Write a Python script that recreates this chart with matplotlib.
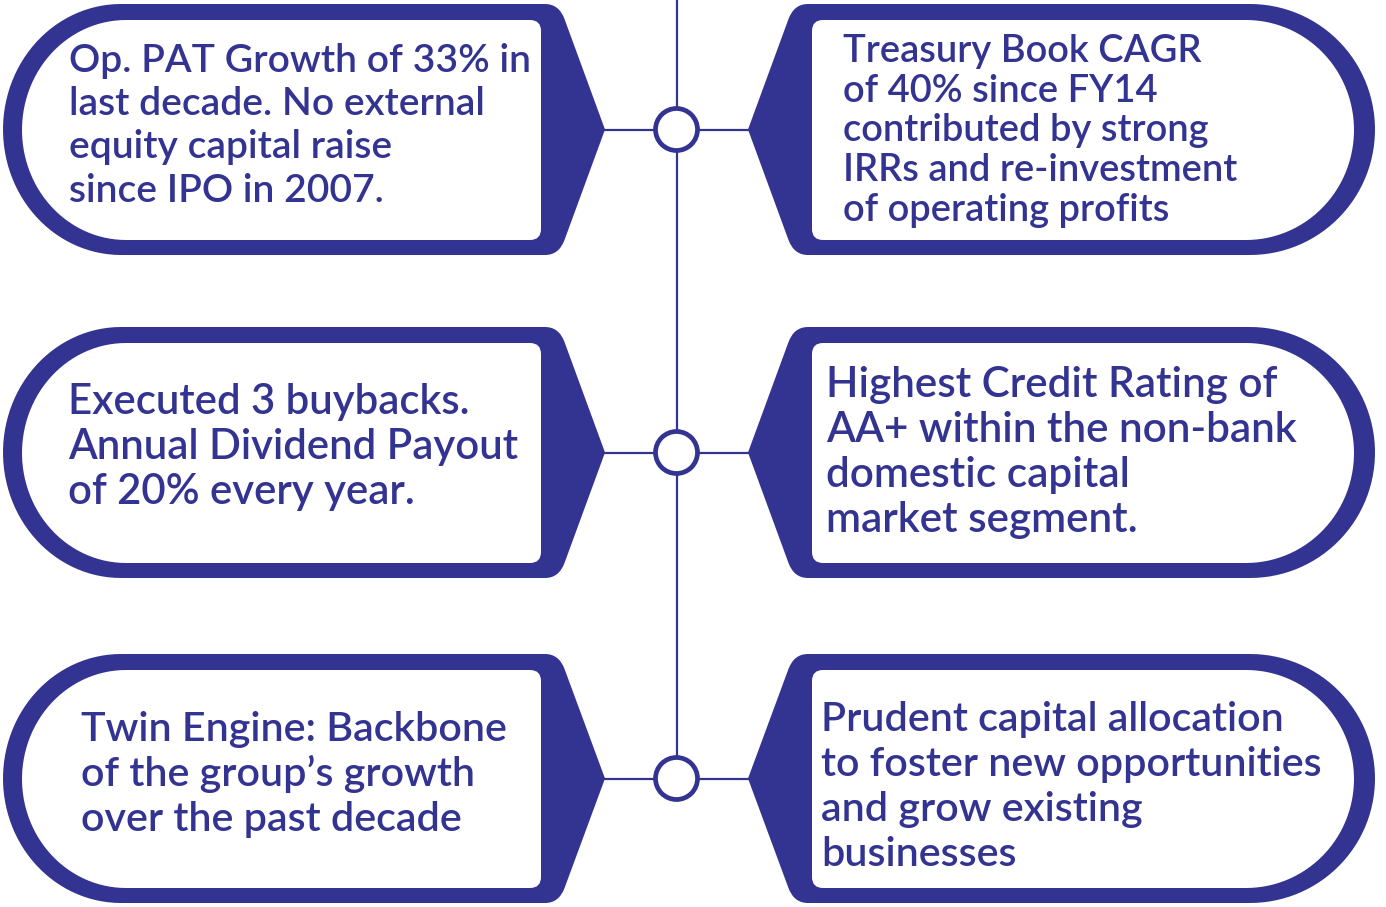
import numpy as np
import matplotlib
matplotlib.use("Agg")
import matplotlib.pyplot as plt
from matplotlib.path import Path
from matplotlib.patches import PathPatch, Circle

# ---- content ----
left_texts = [
    ["Op. PAT Growth of 33% in", "last decade. No external", "equity capital raise", "since IPO in 2007."],
    ["Executed 3 buybacks.", "Annual Dividend Payout", "of 20% every year."],
    ["Twin Engine: Backbone", "of the group\u2019s growth", "over the past decade"],
]
right_texts = [
    ["Treasury Book CAGR", "of 40% since FY14", "contributed by strong", "IRRs and re-investment", "of operating profits"],
    ["Highest Credit Rating of", "AA+ within the non-bank", "domestic capital", "market segment."],
    ["Prudent capital allocation", "to foster new opportunities", "and grow existing", "businesses"],
]

# ---- layout (pixels, y down) ----
NAVY = "#333391"
W, H = 1386, 907
panel_tb = [(4, 255), (327, 578), (654, 903)]
left_text_x = [69, 68, 81]
left_baselines = [[72, 115, 158, 202], [414, 459, 504], [741, 786, 831]]
left_target_w = [461, 450, 427]
right_text_x = [843, 826, 821]
right_baselines = [[62, 102, 141, 181, 221], [397, 442, 487, 532], [731, 776, 821, 866]]
right_target_w = [395, 471, 502]

fig = plt.figure(figsize=(W / 100, H / 100), dpi=100)
ax = fig.add_axes([0, 0, 1, 1])
ax.set_xlim(0, W)
ax.set_ylim(H, 0)
ax.axis("off")


def arc_pts(cx, cy, rx, ry, side, n=60):
    t = np.linspace(0, np.pi, n)
    if side == "left":
        x = cx - rx * np.sin(t)
        y = cy - ry * np.cos(t)
    else:  # right: from bottom to top
        x = cx + rx * np.sin(t)
        y = cy + ry * np.cos(t)
    return list(zip(x, y))


def left_outer(T, B):
    M = (T + B) / 2
    rx = 118
    cx = 3 + rx
    ry = (B - T) / 2
    verts, codes = [], []
    pts = arc_pts(cx, M, rx, ry, "left")
    verts += pts
    codes += [Path.MOVETO] + [Path.LINETO] * (len(pts) - 1)
    tip = (605, M)
    vc_b = (559, B)
    vc_t = (559, T)
    d = np.array(tip) - np.array(vc_b)
    d = d / np.linalg.norm(d)
    verts += [(545, B), vc_b, tuple(np.array(vc_b) + 16 * d), tip]
    codes += [Path.LINETO, Path.CURVE3, Path.CURVE3, Path.LINETO]
    d = np.array(tip) - np.array(vc_t)
    d = d / np.linalg.norm(d)
    verts += [tuple(np.array(vc_t) + 16 * d), vc_t, (545, T), (cx, T)]
    codes += [Path.LINETO, Path.CURVE3, Path.CURVE3, Path.LINETO]
    verts += [(cx, T)]
    codes += [Path.CLOSEPOLY]
    return Path(verts, codes)


def left_inner(T, B):
    Ti, Bi = T + 16, B - 15
    M = (Ti + Bi) / 2
    rx = 104
    cx = 22 + rx
    ry = (Bi - Ti) / 2
    r = 11
    xr = 541
    verts, codes = [], []
    pts = arc_pts(cx, M, rx, ry, "left")
    verts += pts
    codes += [Path.MOVETO] + [Path.LINETO] * (len(pts) - 1)
    verts += [(xr - r, Bi), (xr, Bi), (xr, Bi - r), (xr, Ti + r), (xr, Ti), (xr - r, Ti), (cx, Ti), (cx, Ti)]
    codes += [Path.LINETO, Path.CURVE3, Path.CURVE3, Path.LINETO, Path.CURVE3, Path.CURVE3, Path.LINETO, Path.CLOSEPOLY]
    return Path(verts, codes)


def right_outer(T, B):
    M = (T + B) / 2
    rx = 125
    cx = 1375 - rx
    ry = (B - T) / 2
    verts, codes = [], []
    pts = arc_pts(cx, M, rx, ry, "right")
    verts += pts
    codes += [Path.MOVETO] + [Path.LINETO] * (len(pts) - 1)
    tip = (748, M)
    vc_t = (794, T)
    vc_b = (794, B)
    d = np.array(tip) - np.array(vc_t)
    d = d / np.linalg.norm(d)
    verts += [(808, T), vc_t, tuple(np.array(vc_t) + 16 * d), tip]
    codes += [Path.LINETO, Path.CURVE3, Path.CURVE3, Path.LINETO]
    d = np.array(tip) - np.array(vc_b)
    d = d / np.linalg.norm(d)
    verts += [tuple(np.array(vc_b) + 16 * d), vc_b, (808, B), (cx, B), (cx, B)]
    codes += [Path.LINETO, Path.CURVE3, Path.CURVE3, Path.LINETO, Path.CLOSEPOLY]
    return Path(verts, codes)


def right_inner(T, B):
    Ti, Bi = T + 16, B - 15
    M = (Ti + Bi) / 2
    rx = 108
    cx = 1354 - rx
    ry = (Bi - Ti) / 2
    r = 11
    xl = 812
    verts, codes = [], []
    pts = arc_pts(cx, M, rx, ry, "right")
    verts += pts
    codes += [Path.MOVETO] + [Path.LINETO] * (len(pts) - 1)
    verts += [(xl + r, Ti), (xl, Ti), (xl, Ti + r), (xl, Bi - r), (xl, Bi), (xl + r, Bi), (cx, Bi), (cx, Bi)]
    codes += [Path.LINETO, Path.CURVE3, Path.CURVE3, Path.LINETO, Path.CURVE3, Path.CURVE3, Path.LINETO, Path.CLOSEPOLY]
    return Path(verts, codes)


CX = 676.5
mids = [(T + B) / 2 for T, B in panel_tb]

# connector lines
ax.plot([CX, CX], [0, mids[-1]], color=NAVY, lw=1.6, zorder=1, solid_capstyle="butt")
for m in mids:
    ax.plot([600, 752], [m, m], color=NAVY, lw=1.6, zorder=1, solid_capstyle="butt")
    ax.add_patch(Circle((CX, m), 21, facecolor="white", edgecolor=NAVY, lw=3.4, zorder=3))

for (T, B) in panel_tb:
    ax.add_patch(PathPatch(left_outer(T, B), facecolor=NAVY, edgecolor="none", zorder=2))
    ax.add_patch(PathPatch(left_inner(T, B), facecolor="white", edgecolor="none", zorder=2.5))
    ax.add_patch(PathPatch(right_outer(T, B), facecolor=NAVY, edgecolor="none", zorder=2))
    ax.add_patch(PathPatch(right_inner(T, B), facecolor="white", edgecolor="none", zorder=2.5))

FONT = ["Lato", "DejaVu Sans"]
renderer = fig.canvas.get_renderer()


def place(lines, x, baselines, target):
    objs = []
    for ln, yb in zip(lines, baselines):
        t = ax.text(x, yb, ln, fontsize=20, family=FONT, fontweight="semibold",
                    color=NAVY, ha="left", va="baseline", zorder=5)
        objs.append(t)
    widest = max(o.get_window_extent(renderer).width for o in objs)
    fs = 20 * target / widest
    for o in objs:
        o.set_fontsize(fs)


for i in range(3):
    place(left_texts[i], left_text_x[i], left_baselines[i], left_target_w[i])
    place(right_texts[i], right_text_x[i], right_baselines[i], right_target_w[i])

fig.savefig("out.png", dpi=100, facecolor="white")
